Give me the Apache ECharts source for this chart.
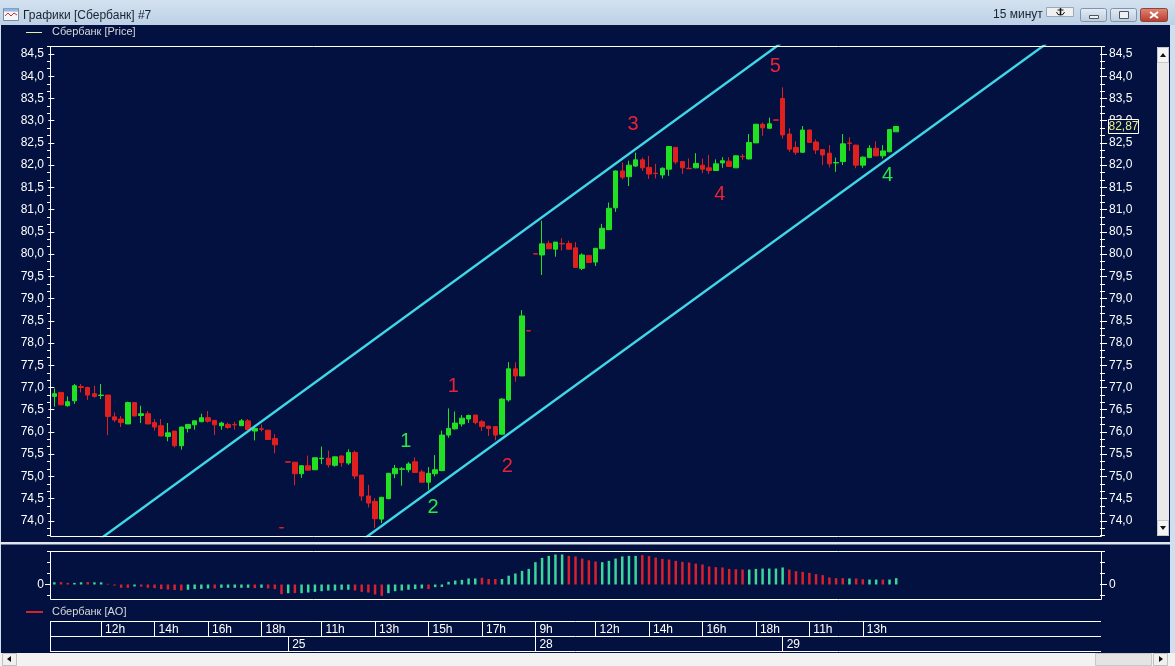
<!DOCTYPE html>
<html>
<head>
<meta charset="utf-8">
<style>html,body{margin:0;padding:0;background:#02113f}#chart{width:1175px;height:666px}</style>
<script src="https://cdn.jsdelivr.net/npm/echarts@6/dist/echarts.min.js"></script>
</head>
<body>
<div id="chart"></div>
<script>
const FONT = '"Liberation Sans", Arial, sans-serif'
const NAVY = '#02113f'
const GREEN = '#22e024'
const RED = '#e0201e'
const SLOTS = 157

// 15 min candles
const open = [76.80,76.89,76.59,76.70,77.02,77.00,76.86,76.82,76.83,76.34,76.29,76.18,76.66,76.37,76.41,76.21,76.14,75.90,76.02,75.69,76.08,76.16,76.23,76.32,76.26,76.14,76.17,76.17,76.14,76.25,76.02,76.07,76.04,75.85,73.85,75.33,75.32,75.06,75.24,75.15,75.40,75.41,75.25,75.46,75.30,75.54,75.03,74.56,74.44,74.04,74.50,75.06,75.16,75.15,75.33,75.10,74.87,75.06,75.13,75.93,76.07,76.18,76.29,76.38,76.23,76.13,76.12,75.95,76.72,77.42,77.26,78.28,80.01,79.98,80.24,80.11,80.24,80.24,80.14,79.68,79.97,79.82,80.12,80.55,81.04,81.87,81.74,81.98,82.12,81.95,81.82,81.78,81.91,82.40,82.08,81.93,81.94,82.00,81.94,81.88,82.05,82.09,81.94,82.20,82.14,82.50,82.92,82.83,83.02,83.50,82.70,82.40,82.29,82.79,82.52,82.35,82.27,82.05,82.08,82.50,82.45,82.00,82.17,82.38,82.21,82.30,82.75]
const close = [76.86,76.61,76.68,77.04,77.00,76.83,76.80,76.83,76.35,76.27,76.21,76.66,76.36,76.41,76.18,76.11,75.91,75.98,75.69,76.11,76.17,76.25,76.32,76.24,76.16,76.20,76.10,76.16,76.25,76.05,76.08,76.06,75.83,75.71,73.84,75.32,75.06,75.24,75.14,75.42,75.41,75.26,75.44,75.31,75.54,75.01,74.56,74.40,74.05,74.53,75.07,75.18,75.17,75.28,75.09,74.87,75.07,75.15,75.93,76.08,76.20,76.31,76.37,76.21,76.12,76.08,75.93,76.74,77.42,77.26,78.61,78.27,80.00,80.23,80.12,80.27,80.23,80.11,79.70,79.98,79.81,80.13,80.58,81.03,81.87,81.73,82.00,82.12,81.94,81.80,81.81,81.93,82.42,82.07,81.94,81.92,82.04,81.91,81.88,82.03,82.10,81.97,82.21,82.19,82.51,82.92,82.84,82.93,83.01,82.68,82.36,82.29,82.79,82.51,82.34,82.23,82.03,82.06,82.48,82.49,82.00,82.18,82.38,82.21,82.32,82.80,82.87]
const low = [76.57,76.60,76.57,76.63,76.89,76.72,76.77,76.74,75.93,76.22,76.11,76.18,76.35,76.20,76.18,76.03,75.90,75.79,75.65,75.60,75.99,76.05,76.22,76.21,75.93,76.05,76.07,76.05,76.14,76.04,75.81,76.01,75.82,75.52,73.84,75.32,74.80,74.97,75.13,75.15,75.28,75.20,75.22,75.22,75.26,74.94,74.45,74.30,73.84,73.95,74.49,74.96,74.79,75.09,75.08,74.86,74.70,75.00,75.12,75.87,76.05,76.12,76.20,76.17,76.02,75.91,75.81,75.94,76.68,77.13,77.26,78.27,80.00,79.53,80.11,79.94,80.08,80.10,79.69,79.64,79.80,79.73,80.11,80.54,80.95,81.68,81.53,81.96,81.87,81.69,81.70,81.70,81.76,82.02,81.80,81.92,81.93,81.82,81.80,81.87,81.94,81.96,81.94,82.12,82.13,82.50,82.66,82.82,83.01,82.60,82.30,82.23,82.28,82.50,82.25,82.00,81.95,81.85,82.00,82.32,81.93,81.94,82.16,82.20,82.15,82.29,82.75]
const high = [76.98,76.90,76.80,77.08,77.08,77.02,77.04,77.08,76.83,76.44,76.36,76.68,76.67,76.59,76.47,76.29,76.29,76.20,76.02,76.12,76.18,76.25,76.41,76.47,76.27,76.23,76.21,76.23,76.29,76.29,76.13,76.17,76.04,75.95,73.85,75.33,75.32,75.24,75.47,75.42,75.67,75.58,75.45,75.47,75.61,75.58,75.03,74.81,74.51,74.54,75.08,75.26,75.21,75.32,75.43,75.15,75.21,75.48,76.03,76.53,76.46,76.38,76.39,76.38,76.27,76.14,76.13,76.76,77.57,77.57,78.74,78.28,80.01,80.75,80.30,80.27,80.36,80.30,80.27,80.02,79.98,80.14,80.68,81.16,81.88,82.06,82.10,82.28,82.17,82.21,82.03,81.95,82.43,82.41,82.09,82.15,82.27,82.15,82.23,82.13,82.18,82.18,82.22,82.25,82.70,82.93,82.96,83.07,83.02,83.75,82.83,82.54,82.88,82.80,82.58,82.36,82.45,82.17,82.70,82.63,82.46,82.20,82.45,82.54,82.45,82.81,82.88]

// awesome oscillator panel, 1 = rising (green) 0 = falling (red)
const aoValues = [.2,.22,.15,.15,.2,.22,.2,.2,.06,-.1,-.3,-.3,-.18,-.2,-.3,-.33,-.42,-.45,-.5,-.55,-.48,-.42,-.4,-.36,-.36,-.3,-.3,-.3,-.3,-.3,-.33,-.3,-.36,-.42,-.88,-.79,-.79,-.79,-.73,-.67,-.61,-.55,-.55,-.48,-.48,-.55,-.67,-.73,-.91,-1.03,-.79,-.61,-.55,-.48,-.42,-.36,-.42,-.24,-.22,.24,.36,.42,.55,.55,.61,.5,.5,.5,.8,1,1.24,1.42,2.03,2.42,2.6,2.73,2.73,2.6,2.55,2.36,2.2,2.09,2.03,2.15,2.36,2.55,2.6,2.6,2.67,2.58,2.45,2.33,2.27,2.15,2.06,2,1.9,1.82,1.64,1.58,1.55,1.42,1.39,1.36,1.36,1.42,1.45,1.45,1.45,1.55,1.36,1.21,1.15,1.06,.94,.85,.64,.58,.58,.55,.55,.48,.45,.45,.45,.45,.58]
const aoRising = [1,0,0,1,1,0,1,1,0,0,0,0,1,0,0,0,0,0,0,0,1,1,1,1,0,1,1,1,1,1,0,1,0,0,0,1,0,1,1,1,1,1,1,1,1,0,0,0,0,0,1,1,1,1,1,1,0,1,1,1,1,1,1,1,0,0,0,1,1,1,1,1,1,1,1,1,1,0,0,0,0,0,1,1,1,1,1,1,0,0,0,0,0,0,0,0,0,0,0,0,0,0,0,0,1,1,1,1,1,1,0,0,0,0,0,0,0,0,0,1,0,0,1,1,0,1,1]

// channel lines, [slot, price]
const upperChannel = [[5,73.39],[110,84.88]]
const lowerChannel = [[46,73.56],[150,84.90]]

// hand marked waves
const waveText = ['1','1','2','2','3','4','5','4']
const waveSlot = [52.6,59.7,56.7,67.8,86.6,99.6,107.9,124.7]
const wavePrice = [75.78,77.02,74.30,75.22,82.91,81.33,84.21,81.76]
const waveColor = ['#28e84a','#ec2036','#28e84a','#ec2036','#ec2036','#ec2036','#ec2036','#28e84a']

const priceMajor = [74,74.5,75,75.5,76,76.5,77,77.5,78,78.5,79,79.5,80,80.5,81,81.5,82,82.5,83,83.5,84,84.5]
const priceMinor = [73.67,73.83,74.17,74.33,74.67,74.83,75.17,75.33,75.67,75.83,76.17,76.33,76.67,76.83,77.17,77.33,77.67,77.83,78.17,78.33,78.67,78.83,79.17,79.33,79.67,79.83,80.17,80.33,80.67,80.83,81.17,81.33,81.67,81.83,82.17,82.33,82.67,82.83,83.17,83.33,83.67,83.83,84.17,84.33,84.67]
const aoMajor = [0]
const aoMinor = [-1,1,2,3]

const timeSlot = [7,15,23,31,40,48,56,64,72,81,89,97,105,113,121]
const timeText = ['12h','14h','16h','18h','11h','13h','15h','17h','9h','12h','14h','16h','18h','11h','13h']
const dateSlot = [35,72,109]
const dateText = ['25','28','29']

const lastPrice = close[close.length - 1]
const slots = Array.from({ length: SLOTS }, (_, i) => i)
const comma = v => v.toFixed(1).replace('.', ',')

function rowCategories(slotIdx, texts) {
  return slots.map(i => {
    const k = slotIdx.indexOf(i)
    return k < 0 ? '' : texts[k]
  })
}

function hiddenX(gridIndex) {
  return { type: 'category', gridIndex, data: slots.map(String), show: false }
}

function rowX(gridIndex, slotIdx, texts) {
  const hit = i => slotIdx.includes(i)
  return {
    type: 'category', gridIndex, data: rowCategories(slotIdx, texts),
    axisLine: { show: false },
    axisTick: { show: true, interval: hit, alignWithLabel: true, inside: true, length: 15, lineStyle: { color: '#fff', width: 1 } },
    axisLabel: { show: true, interval: hit, inside: true, align: 'left', verticalAlign: 'bottom', margin: 1, padding: [0, 0, 0, 4], color: '#fff', fontFamily: FONT, fontSize: 12 }
  }
}

function tickAxis(gridIndex, position, min, max, ticks, length, labels, fmt) {
  return {
    type: 'value', gridIndex, position, min, max,
    axisLine: { show: false },
    splitLine: { show: false },
    axisTick: { show: true, length, customValues: ticks, lineStyle: { color: '#fff', width: 1 } },
    axisLabel: labels
      ? { show: true, customValues: ticks, margin: position === 'left' ? 7 : 9, color: '#fff', fontFamily: FONT, fontSize: 12, formatter: fmt }
      : { show: false }
  }
}

function line(x1, y1, x2, y2, color, width) {
  return { type: 'line', silent: true, z: 20, shape: { x1, y1, x2, y2 }, style: { stroke: color || '#fff', lineWidth: width || 1 } }
}

function box(x, y, width, height, fill, stroke, r) {
  return { type: 'rect', silent: true, z: 20, shape: { x, y, width, height, r: r || 0 }, style: { fill: fill, stroke: stroke || null, lineWidth: 1 } }
}

function label(x, y, text, color, size, align) {
  return { type: 'text', silent: true, z: 21, x, y, style: { text, fill: color || '#fff', font: (size || 11) + 'px ' + FONT, textAlign: align || 'left', textVerticalAlign: 'middle' } }
}

const barGrad = { type: 'linear', x: 0, y: 0, x2: 0, y2: 1, colorStops: [{ offset: 0, color: '#d4e2f0' }, { offset: 1, color: '#bcd0e6' }] }
const btnGrad = { type: 'linear', x: 0, y: 0, x2: 0, y2: 1, colorStops: [{ offset: 0, color: '#e6eef6' }, { offset: 1, color: '#bccbdc' }] }
const closeGrad = { type: 'linear', x: 0, y: 0, x2: 0, y2: 1, colorStops: [{ offset: 0, color: '#e08a78' }, { offset: 1, color: '#b8382a' }] }

const chrome = [
  // window frame
  box(0, 0, 1175, 25, barGrad),
  box(1170, 25, 5, 641, '#cfdff0'),
  box(0, 25, 1, 641, '#cfdff0'),
  box(0, 653, 1175, 13, '#f2f2f2'),
  box(3.5, 8.5, 15, 12, '#f4f6fa', '#7a8ba0'),
  box(4, 8.5, 14, 3, '#8fb4e0'),
  { type: 'polyline', silent: true, z: 21, shape: { points: [[5, 16], [8, 13], [11, 16], [14, 13], [17, 15]] }, style: { stroke: '#d03030', lineWidth: 1, fill: null } },
  label(23, 16, 'Графики [Сбербанк] #7', '#1a2430', 12),
  label(993, 15, '15 минут', '#1a2430', 12),
  box(1046.5, 7.5, 27, 9, '#f0f0f0', '#9aa8b8'),
  line(1060.5, 8, 1060.5, 15, '#101010', 1.5),
  line(1057.5, 10, 1063.5, 10, '#101010', 1),
  { type: 'polyline', silent: true, z: 21, shape: { points: [[1056.5, 12], [1058, 14.5], [1060.5, 15], [1063, 14.5], [1064.5, 12]] }, style: { stroke: '#101010', lineWidth: 1, fill: null } },
  box(1080.5, 8.5, 26, 13, btnGrad, '#7f93aa', 2),
  box(1110.5, 8.5, 26, 13, btnGrad, '#7f93aa', 2),
  box(1140.5, 8.5, 27, 13, closeGrad, '#8a4438', 2),
  box(1089.5, 15.5, 9, 3, '#eef2f6', '#4a5866'),
  box(1119.5, 11.5, 9, 7, '#eef2f6', '#4a5866'),
  line(1150, 12, 1158, 18, '#fff', 2),
  line(1158, 12, 1150, 18, '#fff', 2),
  // vertical scrollbar
  box(1157, 47, 12, 489, '#e9e9e9'),
  box(1157.5, 47.5, 11, 15, '#f4f4f4', '#c8c8c8'),
  box(1157.5, 520.5, 11, 15, '#f4f4f4', '#c8c8c8'),
  { type: 'polygon', silent: true, z: 21, shape: { points: [[1160, 57], [1166, 57], [1163, 53]] }, style: { fill: '#111' } },
  { type: 'polygon', silent: true, z: 21, shape: { points: [[1160, 526], [1166, 526], [1163, 530]] }, style: { fill: '#111' } },
  // horizontal scrollbar
  box(2.5, 653.5, 14, 12, '#f0f0f0', '#c0c0c0'),
  box(1095.5, 653.5, 56, 12, '#e4e4e4', '#c8c8c8'),
  box(1153.5, 653.5, 14, 12, '#f0f0f0', '#c0c0c0'),
  { type: 'polygon', silent: true, z: 21, shape: { points: [[11, 656], [11, 662], [7, 659]] }, style: { fill: '#111' } },
  { type: 'polygon', silent: true, z: 21, shape: { points: [[1159, 656], [1159, 662], [1163, 659]] }, style: { fill: '#111' } },
  // plot frames
  box(50.5, 46.5, 1051, 490, null, '#fff'),
  box(50.5, 551.5, 1051, 48, null, '#fff'),
  box(0, 542, 1170, 2.5, '#dfe6ee'),
  line(50.5, 621.5, 1101, 621.5),
  line(50.5, 636.5, 1101, 636.5),
  line(50.5, 651.5, 1101, 651.5),
  line(50.5, 621, 50.5, 652),
  // legends
  line(26, 32.5, 42, 32.5, '#e4f0a8'),
  label(52, 32, 'Сбербанк [Price]', '#d8d8d8', 11),
  line(26, 612, 43, 612, '#d8202e', 2),
  label(52, 612, 'Сбербанк [AO]', '#d8d8d8', 11),
  // last price tag
  box(1108.5, 119.5, 30, 14, NAVY, '#fff'),
  label(1123.5, 127, lastPrice.toFixed(2).replace('.', ','), '#e8f080', 12, 'center')
]

const option = {
  animation: false,
  backgroundColor: NAVY,
  grid: [
    { left: 51, top: 46, width: 1049, height: 490 },
    { left: 51, top: 551.5, width: 1049, height: 48 },
    { left: 51, top: 621, width: 1049, height: 15.5 },
    { left: 51, top: 636.5, width: 1049, height: 15.5 }
  ],
  xAxis: [
    hiddenX(0),
    { type: 'value', gridIndex: 0, min: -0.5, max: SLOTS - 0.5, show: false },
    hiddenX(1),
    rowX(2, timeSlot, timeText),
    rowX(3, dateSlot, dateText)
  ],
  yAxis: [
    tickAxis(0, 'left', 73.66, 84.68, priceMajor, 6, true, comma),
    tickAxis(0, 'right', 73.66, 84.68, priceMajor, 7, true, comma),
    tickAxis(0, 'left', 73.66, 84.68, priceMinor, 4, false),
    tickAxis(0, 'right', 73.66, 84.68, priceMinor, 5, false),
    tickAxis(1, 'left', -1.364, 3, aoMajor, 6, true, v => String(v)),
    tickAxis(1, 'right', -1.364, 3, aoMajor, 7, true, v => String(v)),
    tickAxis(1, 'left', -1.364, 3, aoMinor, 4, false),
    tickAxis(1, 'right', -1.364, 3, aoMinor, 5, false),
    { type: 'value', gridIndex: 2, show: false },
    { type: 'value', gridIndex: 3, show: false }
  ],
  graphic: { elements: chrome },
  series: [
    {
      name: 'Сбербанк [Price]', type: 'candlestick', xAxisIndex: 0, yAxisIndex: 0, barWidth: 5,
      data: open.map((o, i) => [o, close[i], low[i], high[i]]),
      itemStyle: { color: GREEN, color0: RED, borderColor: GREEN, borderColor0: RED, borderWidth: 1 }
    },
    {
      type: 'line', xAxisIndex: 1, yAxisIndex: 0, data: upperChannel, symbol: 'none', clip: true, z: 5,
      lineStyle: { color: '#40d8e8', width: 2.4 }
    },
    {
      type: 'line', xAxisIndex: 1, yAxisIndex: 0, data: lowerChannel, symbol: 'none', clip: true, z: 5,
      lineStyle: { color: '#40d8e8', width: 2.4 }
    },
    {
      type: 'scatter', xAxisIndex: 1, yAxisIndex: 0, symbolSize: 0, z: 6, itemStyle: { opacity: 1 },
      data: waveText.map((t, i) => ({
        name: t, value: [waveSlot[i], wavePrice[i]],
        label: { show: true, position: 'inside', formatter: '{b}', color: waveColor[i], fontFamily: FONT, fontSize: 20 }
      }))
    },
    {
      name: 'Сбербанк [AO]', type: 'bar', xAxisIndex: 2, yAxisIndex: 4, barWidth: 2.5,
      data: aoValues.map((v, i) => ({ value: v, itemStyle: { color: aoRising[i] ? '#3ad69b' : '#d8202e' } }))
    }
  ]
}

const chart = echarts.init(document.getElementById('chart'), null, { renderer: 'canvas' })
chart.setOption(option)
</script>
</body>
</html>
